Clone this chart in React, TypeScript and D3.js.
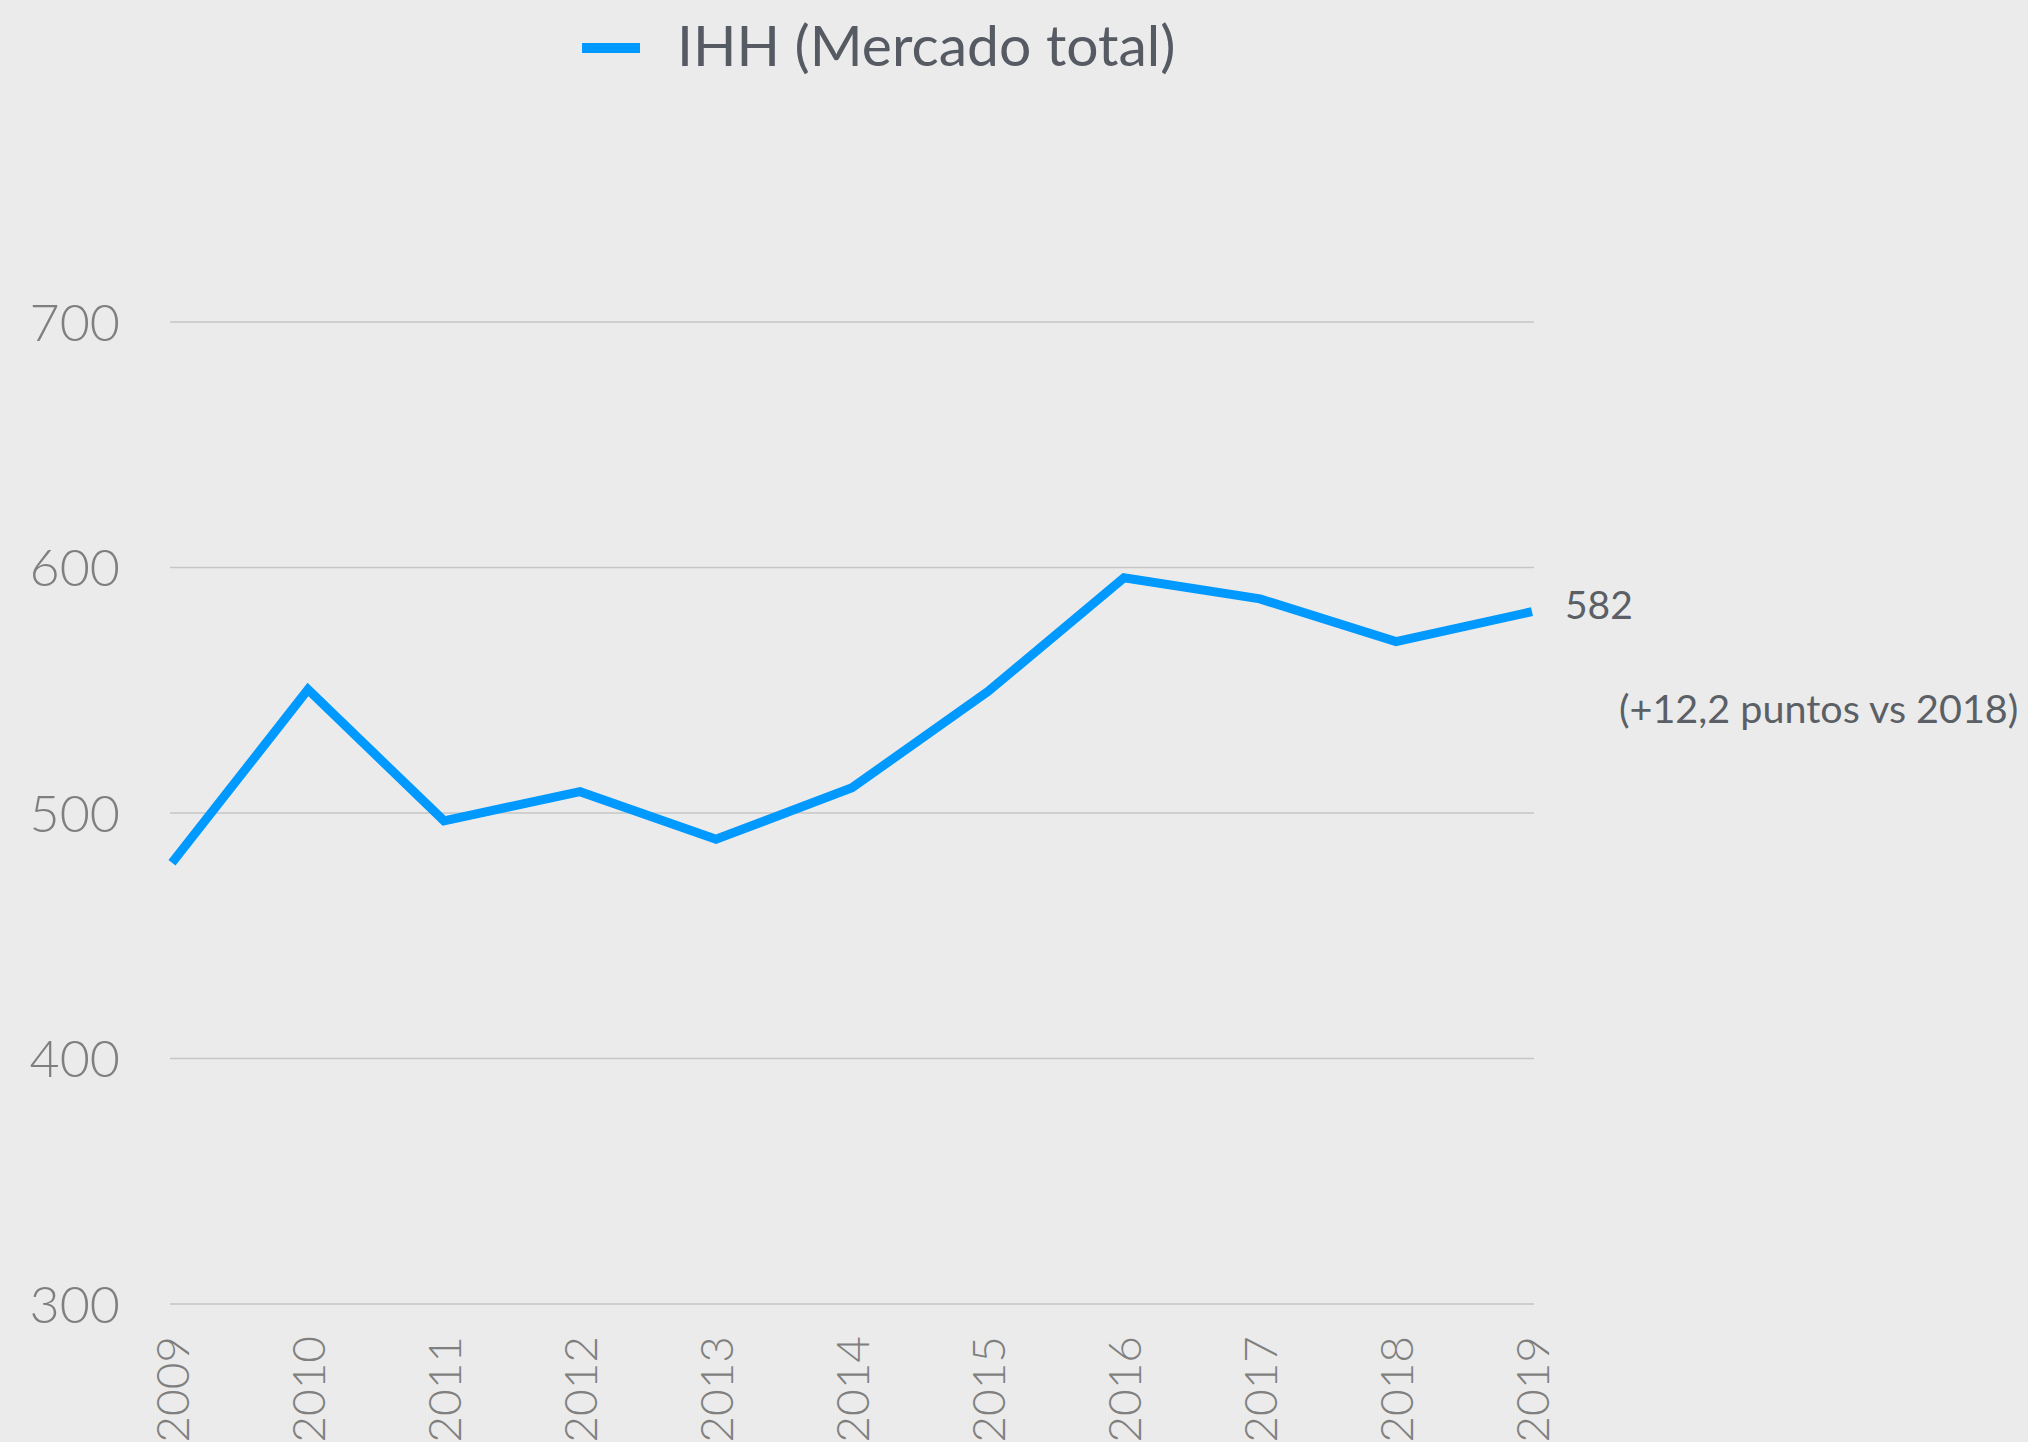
import React from "react";
import * as d3 from "d3";

const years = ["2009", "2010", "2011", "2012", "2013", "2014", "2015", "2016", "2017", "2018", "2019"];
const ihh = [479.7, 550.3, 496.8, 508.7, 489.3, 510.3, 549.5, 595.8, 587.2, 569.8, 582.0];
const yTicks = [300, 400, 500, 600, 700];
const legendLabel = "IHH (Mercado total)";
const lastValueLabel = "582";
const changeLabel = "(+12,2 puntos vs 2018)";

const W = 2028;
const H = 1442;
const FONT = "Lato, 'Noto Sans', sans-serif";

export default function App() {
  const x = d3.scalePoint<string>().domain(years).range([172, 1532]);
  const y = d3.scaleLinear().domain([300, 700]).range([1304, 322]);
  const line = d3
    .line<number>()
    .x((_, i) => x(years[i]) as number)
    .y((d) => y(d));

  return (
    <svg
      width={W}
      height={H}
      style={{ position: "absolute", left: 0, top: 0, background: "#EBEBEB" }}
    >
      <rect x={0} y={0} width={W} height={H} fill="#EBEBEB" />
      {/* legend */}
      <line x1={582} x2={640} y1={48} y2={48} stroke="#0099FF" strokeWidth={10} />
      <text x={677} y={66} fontFamily={FONT} fontSize={57} fill="#555A63">
        {legendLabel}
      </text>
      {/* gridlines */}
      {yTicks.map((t) => (
        <line key={t} x1={170} x2={1534} y1={y(t)} y2={y(t)} stroke="#C6C6C6" strokeWidth={1.5} />
      ))}
      {/* y tick labels */}
      {yTicks.map((t) => (
        <text
          key={"l" + t}
          x={120}
          y={y(t)}
          dy="0.36em"
          textAnchor="end"
          fontFamily={FONT}
          fontWeight={300}
          fontSize={52}
          fill="#7F7F7F"
        >
          {t}
        </text>
      ))}
      {/* x tick labels */}
      {years.map((yr) => (
        <text
          key={yr}
          transform={`translate(${x(yr)},1336) rotate(-90)`}
          textAnchor="end"
          dy="0.36em"
          fontFamily={FONT}
          fontWeight={300}
          fontSize={46}
          fill="#7F7F7F"
        >
          {yr}
        </text>
      ))}
      {/* line */}
      <path
        d={line(ihh) || ""}
        fill="none"
        stroke="#0099FF"
        strokeWidth={9}
        strokeLinejoin="miter"
        strokeLinecap="butt"
      />
      {/* annotations */}
      <text x={1565} y={619} fontFamily={FONT} fontSize={39} fill="#5B5F66">
        {lastValueLabel}
      </text>
      <text x={1619} y={723} fontFamily={FONT} fontSize={39.5} fill="#5B5F66">
        {changeLabel}
      </text>
    </svg>
  );
}
